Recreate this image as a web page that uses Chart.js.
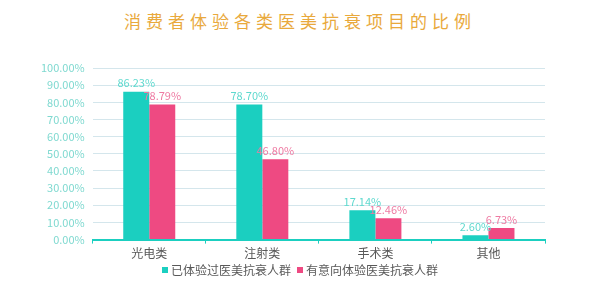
<!DOCTYPE html>
<html>
<head>
<meta charset="utf-8">
<script src="https://cdn.jsdelivr.net/npm/chart.js@4/dist/chart.umd.min.js"></script>
<style>
  html, body { margin: 0; padding: 0; background: #fff; }
  #wrap { position: relative; width: 600px; height: 290px; }
  #title {
    position: absolute; left: 0; top: 8px; width: 600px; text-align: center;
    font-family: "Noto Sans CJK SC", sans-serif; font-size: 17px; font-weight: 400;
    letter-spacing: 5px; color: #E9A93C;
  }
  #legend {
    position: absolute; left: 0; top: 261px; width: 600px; text-align: center;
    font-family: "Noto Sans CJK SC", sans-serif; font-size: 12px; color: #595959;
  }
  #legend span { margin: 0 3px; }
  #legend i {
    display: inline-block; width: 6px; height: 6px; margin-right: 3px;
    vertical-align: 2px;
  }
  canvas { position: absolute; left: 0; top: 0; }
</style>
</head>
<body>
<div id="wrap">
  <div id="title">消费者体验各类医美抗衰项目的比例</div>
  <canvas id="c" width="600" height="290"></canvas>
  <div id="legend"></div>
</div>
<script>
var categories = ["光电类", "注射类", "手术类", "其他"];
var seriesNames = ["已体验过医美抗衰人群", "有意向体验医美抗衰人群"];
var experienced = [86.23, 78.70, 17.14, 2.60];
var intending = [78.79, 46.80, 12.46, 6.73];
var colors = ["#1BCFC0", "#EE4A82"];
var labelColors = ["#5ED9CE", "#EE7AA2"];

var font = "\"Noto Sans CJK SC\", \"Open Sans\", sans-serif";

// draw the value above each bar
var barLabels = {
    id: "barLabels",
    afterDatasetsDraw: function(chart) {
        var ctx = chart.ctx;
        ctx.save();
        ctx.font = "11px " + font;
        ctx.textAlign = "center";
        ctx.textBaseline = "bottom";
        chart.data.datasets.forEach(function(ds, i) {
            var meta = chart.getDatasetMeta(i);
            ctx.fillStyle = labelColors[i];
            meta.data.forEach(function(bar, j) {
                ctx.fillText(ds.data[j].toFixed(2) + "%", bar.x, bar.y - 3);
            });
        });
        ctx.restore();
    }
};

var chart = new Chart(document.getElementById("c"), {
    type: "bar",
    data: {
        labels: categories,
        datasets: [{
            label: seriesNames[0],
            data: experienced,
            backgroundColor: colors[0],
            categoryPercentage: 0.46,
            barPercentage: 1
        }, {
            label: seriesNames[1],
            data: intending,
            backgroundColor: colors[1],
            categoryPercentage: 0.46,
            barPercentage: 1
        }]
    },
    options: {
        responsive: false,
        animation: false,
        layout: { padding: { top: 68, left: 33, right: 55, bottom: 26 } },
        plugins: {
            legend: { display: false },
            tooltip: { enabled: false }
        },
        scales: {
            x: {
                grid: {
                    offset: true, drawOnChartArea: false, tickLength: 4,
                    color: "#1BCFC0", lineWidth: 1
                },
                border: { color: "#1BCFC0", width: 2 },
                ticks: { color: "#595959", font: { family: font, size: 12 }, padding: 3 }
            },
            y: {
                min: 0, max: 100,
                ticks: {
                    stepSize: 10,
                    color: "#7FD9D0",
                    font: { family: font, size: 11 },
                    padding: 8,
                    callback: function(v) { return v.toFixed(2) + "%"; }
                },
                grid: { color: "#D4E6EC", drawTicks: false, lineWidth: 1 },
                border: { display: false }
            }
        }
    },
    plugins: [barLabels]
});

// legend built from the chart's datasets
var legend = document.getElementById("legend");
chart.data.datasets.forEach(function(ds) {
    var s = document.createElement("span");
    var box = document.createElement("i");
    box.style.background = ds.backgroundColor;
    s.appendChild(box);
    s.appendChild(document.createTextNode(ds.label));
    legend.appendChild(s);
});
</script>
</body>
</html>
